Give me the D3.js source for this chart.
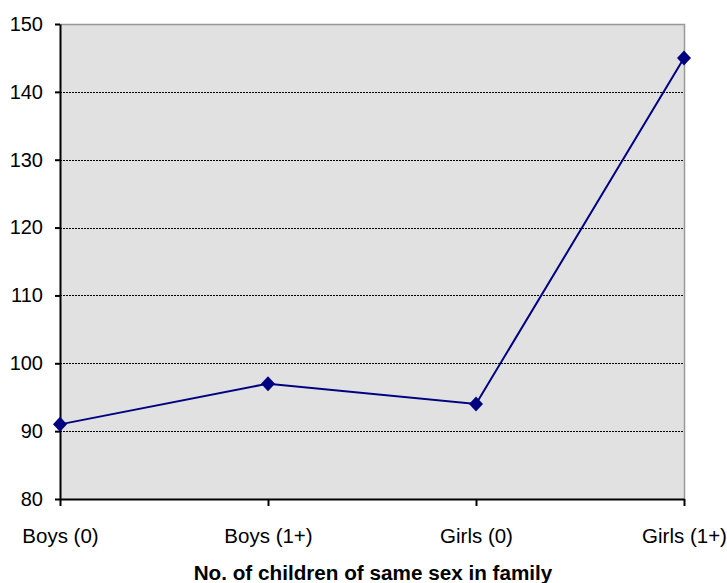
<!DOCTYPE html>
<html>
<head>
<meta charset="utf-8">
<script src="https://cdn.jsdelivr.net/npm/d3@7"></script>
<style>
  html, body { margin: 0; padding: 0; background: #fff; }
  svg text { font-family: Arial, "Liberation Sans", sans-serif; }
</style>
</head>
<body>
<svg id="chart" width="727" height="583"></svg>
<script>
// Categories along the x axis and the plotted values
const categories = ["Boys (0)", "Boys (1+)", "Girls (0)", "Girls (1+)"];
const values = [91, 97, 94, 145];
const yTicks = [80, 90, 100, 110, 120, 130, 140, 150];
const xTitle = "No. of children of same sex in family";

(function () {
  const svg = d3.select("#chart");
  const plotLeft = 60, plotRight = 684, plotTop = 24, plotBottom = 499;

  const x = d3.scalePoint().domain(categories).range([plotLeft, plotRight]);
  const y = d3.scaleLinear().domain([80, 150]).range([plotBottom, plotTop]);

  // Plot background
  svg.append("rect")
    .attr("x", plotLeft).attr("y", plotTop)
    .attr("width", plotRight - plotLeft).attr("height", plotBottom - plotTop)
    .attr("fill", "#e1e1e1");

  // Top and right frame edges
  svg.append("path")
    .attr("d", `M${plotLeft},${plotTop + 0.5}H${plotRight + 0.5}V${plotBottom}`)
    .attr("fill", "none").attr("stroke", "#999").attr("stroke-width", 1.5);

  // Horizontal gridlines
  svg.append("g").selectAll("line")
    .data(yTicks.filter(d => d > 80 && d < 150))
    .join("line")
    .attr("x1", plotLeft).attr("x2", plotRight)
    .attr("y1", d => Math.round(y(d)) + 0.5).attr("y2", d => Math.round(y(d)) + 0.5)
    .attr("stroke", "#000").attr("stroke-width", 1)
    .attr("stroke-dasharray", "2,1");

  // Y axis
  const yAxis = svg.append("g")
    .attr("transform", `translate(${plotLeft},0)`)
    .call(d3.axisLeft(y).tickValues(yTicks).tickSize(5).tickPadding(12).tickSizeOuter(0));
  yAxis.select(".domain").attr("stroke", "#000").attr("stroke-width", 2);
  yAxis.selectAll(".tick line").attr("stroke", "#000").attr("stroke-width", 2);
  yAxis.selectAll("text").attr("font-size", 20).attr("fill", "#000");

  // X axis
  const xAxis = svg.append("g")
    .attr("transform", `translate(0,${plotBottom})`)
    .call(d3.axisBottom(x).tickSize(7).tickPadding(22).tickSizeOuter(0));
  xAxis.select(".domain").attr("stroke", "#000").attr("stroke-width", 2);
  xAxis.selectAll(".tick line").attr("stroke", "#000").attr("stroke-width", 2);
  xAxis.selectAll("text").attr("font-size", 20.5).attr("fill", "#000");

  // Axis title
  svg.append("text")
    .attr("x", 373).attr("y", 580)
    .attr("text-anchor", "middle")
    .attr("font-size", 20.7).attr("font-weight", "bold")
    .text(xTitle);

  // Data line
  const data = categories.map((c, i) => ({ c, v: values[i] }));
  svg.append("path")
    .datum(data)
    .attr("d", d3.line().x(d => x(d.c)).y(d => y(d.v)))
    .attr("fill", "none").attr("stroke", "#000080").attr("stroke-width", 2);

  // Diamond markers
  svg.append("g").selectAll("path")
    .data(data)
    .join("path")
    .attr("transform", d => `translate(${x(d.c)},${y(d.v)})`)
    .attr("d", "M0,-7.5L7,0L0,7.5L-7,0Z")
    .attr("fill", "#000080");
})();
</script>
</body>
</html>
